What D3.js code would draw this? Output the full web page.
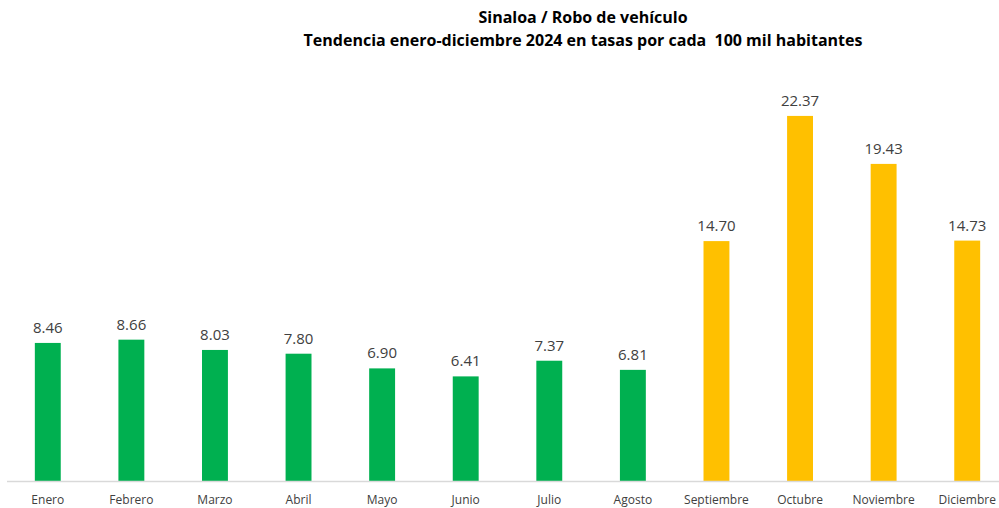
<!DOCTYPE html>
<html>
<head>
<meta charset="utf-8">
<script src="https://cdn.jsdelivr.net/npm/d3@7"></script>
<style>
body { margin:0; background:#fff; }
text { font-family: "Open Sans", "Noto Sans", sans-serif; }
</style>
</head>
<body>
<div id="svgArea"></div>
<script>
var months = ["Enero","Febrero","Marzo","Abril","Mayo","Junio","Julio","Agosto","Septiembre","Octubre","Noviembre","Diciembre"];
var rates = [8.46, 8.66, 8.03, 7.80, 6.90, 6.41, 7.37, 6.81, 14.70, 22.37, 19.43, 14.73];
var titleLines = ["Sinaloa / Robo de vehículo", "Tendencia enero-diciembre 2024 en tasas por cada  100 mil habitantes"];

var width = 999, height = 508;
var svg = d3.select("#svgArea").append("svg").attr("width", width).attr("height", height);

var xScale = d3.scaleBand()
  .domain(months)
  .range([6, 1009])
  .paddingInner(0.69)
  .paddingOuter(0.345);

var yScale = d3.scaleLinear()
  .domain([0, 25])
  .range([481, 73]);

// titulo
svg.selectAll("text.title")
  .data(titleLines)
  .enter()
  .append("text")
  .attr("class", "title")
  .attr("x", 583)
  .attr("y", (d, i) => 23 + i * 23)
  .attr("text-anchor", "middle")
  .style("font-size", "16px")
  .style("font-weight", "bold")
  .style("white-space", "pre")
  .style("fill", "#000")
  .text(d => d);

// barras
svg.selectAll("rect.bar")
  .data(rates)
  .enter()
  .append("rect")
  .attr("class", "bar")
  .attr("x", (d, i) => xScale(months[i]))
  .attr("width", xScale.bandwidth())
  .attr("y", d => yScale(d))
  .attr("height", d => yScale(0) - yScale(d))
  .style("fill", (d, i) => i < 8 ? "#00B050" : "#FFC000");

// etiquetas de valor
svg.selectAll("text.val")
  .data(rates)
  .enter()
  .append("text")
  .attr("class", "val")
  .attr("x", (d, i) => xScale(months[i]) + xScale.bandwidth() / 2)
  .attr("y", d => yScale(d) - 10)
  .attr("text-anchor", "middle")
  .style("font-size", "15px")
  .style("fill", "#404040")
  .text(d => d.toFixed(2));

// eje x
var xAxisG = svg.append("g").attr("transform", "translate(0,481)");
xAxisG.call(d3.axisBottom(xScale).tickSize(0).tickPadding(14));
xAxisG.select(".domain").attr("d", "M7,0.5H999").attr("stroke", "#d9d9d9").attr("stroke-width", 1.5);
xAxisG.selectAll("text").style("font-size", "12px").style("fill", "#404040")
  .style("font-family", "'Open Sans', 'Noto Sans', sans-serif");
</script>
</body>
</html>
